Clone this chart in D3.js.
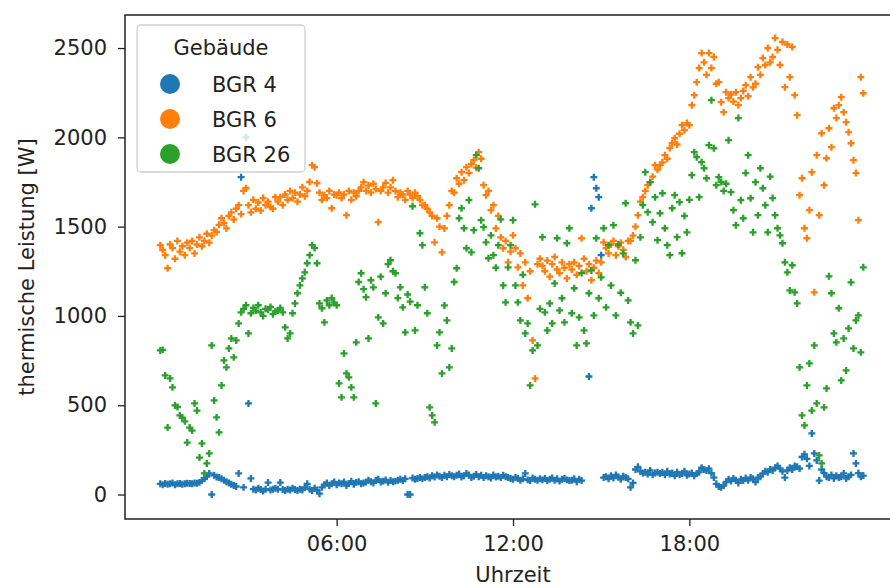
<!DOCTYPE html>
<html>
<head>
<meta charset="utf-8">
<script src="https://cdn.jsdelivr.net/npm/d3@7"></script>
<style>
  body { margin: 0; background: #fff; }
  svg { display: block; font-family: "DejaVu Sans", sans-serif; }
</style>
</head>
<body>
<div class="main"></div>
<script>
// Gebaeude (hue categories) and colours
let buildings = ['BGR 4', 'BGR 6', 'BGR 26'];
let colors = ['#1f77b4', '#ff7f0e', '#2ca02c'];

// 5-minute readings, 00:00 .. 23:55, one row per hour (W)
let bgr4 = [
  60, 55, 62, 58, 60, 65, 55, 60, 62, 58, 60, 63,
  62, 60, 65, 63, 68, 78, 88, 100, 118, 0, 108, 98,
  95, 88, 80, 72, 65, 58, 50, 45, 118, 1777, 40, 2000,
  510, 90, 30, 25, 35, 28, 20, 30, 67, 25, 30, 35,
  30, 67, 28, 22, 30, 25, 35, 28, 22, 30, 25, 40,
  60, 30, 22, 35, 25, 5, 40, 55, 65, 50, 60, 70,
  55, 65, 60, 70, 50, 62, 75, 58, 68, 72, 60, 65,
  70, 80, 72, 65, 78, 85, 70, 75, 82, 68, 78, 72,
  75, 80, 85, 78, 88, 0, 0, 92, 85, 90, 95, 88,
  95, 100, 92, 105, 98, 110, 102, 95, 108, 100, 112, 105,
  100, 108, 115, 98, 105, 118, 110, 95, 102, 112, 100, 108,
  95, 105, 100, 92, 110, 98, 102, 95, 108, 100, 95, 90,
  85, 95, 90, 80, 88, 118, 82, 78, 92, 85, 80, 88,
  82, 90, 78, 85, 92, 80, 88, 75, 85, 90, 82, 78,
  80, 88, 72, 85, 78, null, null, 661, 1603, 1777, 1715, 1665,
  1340, 95, 100, 88, 105, 92, 110, 98, 85, 102, 95, 88,
  40, 65, 140, 155, 130, 120, 125, 115, 135, 110, 120, 125,
  118, 125, 110, 130, 115, 120, 105, 125, 112, 118, 130, 108,
  115, 120, 105, 118, 125, 150, 140, 135, 145, 120, 95, 60,
  45, 40, 50, 70, 85, 75, 90, 80, 65, 85, 78, 92,
  80, 95, 88, 70, 95, 100, 118, 130, 125, 140, 135, 150,
  160, 145, 130, 95, 135, 150, 140, 160, 155, 145, 210, 225,
  200, 160, 342, 230, 191, 78, 140, 120, 100, 95, 110, 90,
  105, 95, 100, 118, 90, 100, 110, 230, 174, 120, 100, 106
];

let bgr6 = [
  1396, 1370, 1340, 1267, 1400, 1380, 1320, 1420, 1360, 1390, 1340, 1410,
  1380, 1420, 1350, 1400, 1440, 1390, 1420, 1460, 1410, 1450, 1480, 1470,
  1510, 1547, 1520, 1490, 1560, 1580, 1540, 1600, 1620, 1570, 1700, 1715,
  1620, 1580, 1650, 1600, 1635, 1590, 1660, 1620, 1640, 1610, 1600, 1665,
  1640, 1665, 1620, 1680, 1650, 1700, 1660, 1690, 1640, 1680, 1720, 1670,
  1700, 1750, 1844, 1833, 1743, 1690, 1650, 1676, 1660, 1700, 1603, 1680,
  1676, 1690, 1660, 1680, 1564, 1700, 1650, 1690, 1670, 1700, 1720, 1749,
  1700, 1730, 1690, 1740, 1710, 1525, 1700, 1720, 1745, 1690, 1720, 1760,
  1700, 1665, 1690, 1680, 1650, 1700, 1680, 1660, 1690, 1670, 1650, 1620,
  1620, 1600, 1580, 1560, 1412, 1547, 1500, 1356, 1490, 1560, 1620, 1700,
  1690, 1771, 1740, 1805, 1760, 1833, 1800, 1850, 1872, 1830, 1917, 1880,
  1732, 1676, 1700, 1592, 1620, 1490, 1560, 1440, 1379, 1420, 1300, 1360,
  1451, 1379, 1272, 1350, 1171, 1300, 1099, 1250, 863, 650, 1290, 1320,
  1280, 1250, 1310, 1220, 1290, 1330, 1260, 1240, 1300, 1270, 1210, 1290,
  1260, 1300, 1230, 1280, 1435, 1320, 1250, 1290, 1200, 1270, 1310, 1240,
  1300, 1412, 1380, 1350, 1400, 1420, 1340, 1390, 1410, 1370, 1330, 1420,
  1420, 1450, 1500, 1564, 1640, 1665, 1700, 1732, 1749, 1780, 1844, 1820,
  1844, 1860, 1900, 1880, 1940, 1967, 1995, 1960, 2020, 2068, 2040, 2080,
  2068, 2180, 2236, 2309, 2388, 2472, 2420, 2350, 2472, 2388, 2450, 2300,
  2309, 2197, 2141, 2253, 2220, 2240, 2200, 2253, 2180, 2220, 2260, 2292,
  2230, 2337, 2280, 2300, 2393, 2350, 2444, 2405, 2500, 2420, 2450, 2556,
  2490, 2405, 2534, 2281, 2520, 2337, 2506, 2236, 2124, 1676, 1771, 1491,
  1435, 1592, 1805, 1132, 1900, 1564, 2023, 1732, 1883, 2051, 1945, 2163,
  2108, 2180, 2225, 2141, 2085, 2029, 1967, 1872, 1800, 1536, 2337, 2247
];

let bgr26 = [
  807, 810, 667, 375, 650, 600, 499, 490, 443, 430, 410, 291,
  375, 358, 510, 470, 207, 286, 118, 174, 230, 835, 527, 432,
  348, 611, 751, 712, 818, 874, 768, 863, 958, 1020, 1040, 1060,
  902, 1015, 1045, 1030, 1060, 1020, 1000, 1040, 1035, 1050, 1010, 1025,
  1030, 1045, 1020, 936, 874, 902, 1015, 1070, 1127, 1171, 1210, 1244,
  1295, 1340, 1396, 1380, 1295, 1070, 1043, 964, 1087, 1060, 1100, 1075,
  1060, 622, 544, 790, 678, 656, 600, 544, 852, 1190, 1239, 1150,
  1105, 874, 1200, 1160, 510, 992, 1220, 958, 1127, 1290, 1312, 1250,
  1239, 1100, 1160, 1048, 908, 1120, 1080, 1614, 919, 1060, 1463, 1396,
  1160, 1015, 488, 443, 404, 835, 908, 678, 1059, 975, 712, 818,
  1190, 1267, 1547, 1603, 1491, 1379, 1648, 1356, 1480, 1900, 1827, 1536,
  1497, 1412, 1323, 1451, 1340, 1270, 1396, 1541, 1171, 1076, 1272, 1396,
  1536, 1171, 1076, 975, 1230, 902, 958, 611, 807, 1625, 835, 1040,
  1441, 1020, 919, 1070, 958, 1182, 1435, 1031, 1099, 964, 1407, 1491,
  1015, 1155, 835, 992, 1240, 919, 846, 1127, 1255, 1003, 1435, 1099,
  1216, 1491, 1048, 1396, 1171, 1508, 1003, 1400, 1130, 1350, 1631, 1087,
  964, 902, 1312, 947, 1440, 1620, 1805, 1581, 1749, 1525, 1665, 1424,
  1575, 1687, 1491, 1396, 1340, 1603, 1676, 1441, 1637, 1351, 1560, 1468,
  1650, 1788, 1917, 1889, 1665, 1861, 1827, 1771, 1956, 2208, 1939, 1732,
  1777, 1750, 1700, 1740, 1984, 1693, 1592, 1508, 2108, 1648, 1547, 1800,
  1900, 1659, 1468, 1749, 1564, 1827, 1715, 1620, 1468, 1780, 1660, 1564,
  1491, 1451, 1407, 1300, 1244, 1143, 1284, 1132, 1070, 712, 443, 387,
  611, 734, 470, 835, 510, 219, 174, 488, 594, 1222, 1127, 902,
  852, 1043, 639, 874, 695, 930, 1188, 818, 975, 1003, 796, 1272
];

let seriesValues = [bgr4, bgr6, bgr26];

let yTicks = [0, 500, 1000, 1500, 2000, 2500];
let xTickLabels = ['06:00', '12:00', '18:00'];

let chartOptions = {
  width: 890,
  height: 588,
  left: 125,
  right: 901,
  top: 15,
  bottom: 519,
  fontSize: 21
};

let day = new Date(2021, 0, 1, 0, 0);
let timeAt = i => new Date(day.getTime() + i * 5 * 60000);
let parseTime = d3.timeParse('%Y-%m-%d %H:%M');

let points = [];
seriesValues.forEach((vals, s) => {
  vals.forEach((v, i) => {
    if (v !== null) points.push({ building: buildings[s], t: timeAt(i), value: v });
  });
});

let svg = d3.select('.main').append('svg')
  .attr('width', chartOptions.width)
  .attr('height', chartOptions.height);

svg.append('rect')
  .attr('width', chartOptions.width)
  .attr('height', chartOptions.height)
  .attr('fill', '#fff');

let x = d3.scaleTime()
  .domain([new Date(day.getTime() - 72 * 60000), new Date(day.getTime() + 25.2 * 3600000)])
  .range([chartOptions.left, chartOptions.right]);

let y = d3.scaleLinear()
  .domain([-137, 2685])
  .range([chartOptions.bottom, chartOptions.top]);

let color = d3.scaleOrdinal().domain(buildings).range(colors);

// points
let cross = d3.symbol().type(d3.symbolCross).size(27);
svg.append('g').selectAll('path')
  .data(points)
  .enter().append('path')
  .attr('d', cross)
  .attr('transform', d => `translate(${x(d.t)},${y(d.value)})`)
  .attr('fill', d => color(d.building));

// axes
let xTickTimes = xTickLabels.map(l => parseTime('2021-01-01 ' + l));

let xAxis = svg.append('g')
  .attr('transform', `translate(0,${chartOptions.bottom})`)
  .call(d3.axisBottom(x).tickValues(xTickTimes).tickFormat(d3.timeFormat('%H:%M'))
    .tickSize(7).tickPadding(10));

let yAxis = svg.append('g')
  .attr('transform', `translate(${chartOptions.left},0)`)
  .call(d3.axisLeft(y).tickValues(yTicks).tickFormat(d3.format('d'))
    .tickSize(7).tickPadding(11));

[xAxis, yAxis].forEach(a => {
  a.select('.domain').remove();
  a.selectAll('line').attr('stroke', '#222').attr('stroke-width', 1.3);
  a.selectAll('text')
    .attr('fill', '#222')
    .style('font-size', chartOptions.fontSize + 'px')
    .style('font-family', '"DejaVu Sans", sans-serif');
});

// frame
svg.append('rect')
  .attr('x', chartOptions.left)
  .attr('y', chartOptions.top)
  .attr('width', chartOptions.right - chartOptions.left)
  .attr('height', chartOptions.bottom - chartOptions.top)
  .attr('fill', 'none')
  .attr('stroke', '#222')
  .attr('stroke-width', 1.5);

// axis titles
svg.append('text')
  .attr('x', (chartOptions.left + chartOptions.right) / 2)
  .attr('y', 582)
  .attr('text-anchor', 'middle')
  .attr('fill', '#222')
  .style('font-size', chartOptions.fontSize + 'px')
  .text('Uhrzeit');

svg.append('text')
  .attr('transform', `translate(34,${(chartOptions.top + chartOptions.bottom) / 2}) rotate(-90)`)
  .attr('text-anchor', 'middle')
  .attr('fill', '#222')
  .style('font-size', chartOptions.fontSize + 'px')
  .text('thermische Leistung [W]');

// legend
let legend = svg.append('g');
legend.append('rect')
  .attr('x', 137).attr('y', 25)
  .attr('width', 168).attr('height', 147)
  .attr('rx', 4)
  .attr('fill', '#fff').attr('fill-opacity', 0.8)
  .attr('stroke', '#d0d0d0').attr('stroke-width', 1.3);

legend.append('text')
  .attr('x', 221).attr('y', 55)
  .attr('text-anchor', 'middle')
  .attr('fill', '#222')
  .style('font-size', chartOptions.fontSize + 'px')
  .text('Gebäude');

let entries = legend.selectAll('g.entry')
  .data(buildings)
  .enter().append('g')
  .attr('class', 'entry')
  .attr('transform', (d, i) => `translate(170,${84 + i * 35})`);

entries.append('circle')
  .attr('r', 10)
  .attr('fill', d => color(d));

entries.append('text')
  .attr('x', 42).attr('y', 7.5)
  .attr('fill', '#222')
  .style('font-size', chartOptions.fontSize + 'px')
  .text(d => d);
</script>
</body>
</html>
